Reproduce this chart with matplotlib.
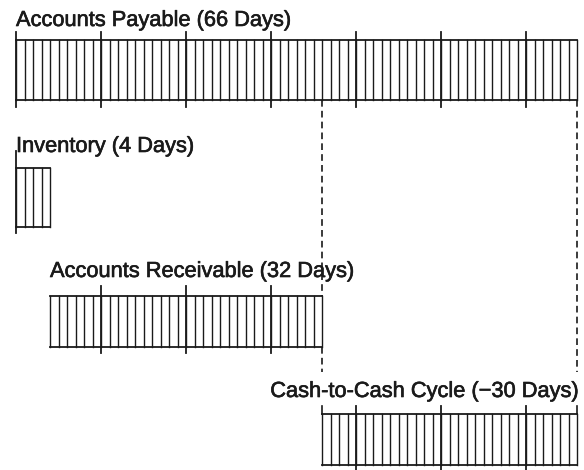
import matplotlib
matplotlib.use("Agg")
import matplotlib.pyplot as plt
import matplotlib.patheffects as pe

# Cash-to-cash cycle, in days
LABELS = ["Accounts Payable (66 Days)", "Inventory (4 Days)",
          "Accounts Receivable (32 Days)", "Cash-to-Cash Cycle (\u221230 Days)"]
STARTS = [0, 0, 4, 36]
LENGTHS = [66, 4, 32, 30]
MAJOR = 10  # tick every 10 days

# layout in pixels (y grows downward): bar top, bar bottom, tick top, tick bottom, title baseline
ROWS = [(40, 100, 32, 107, 26), (168, 227, 151, 233, 152),
        (296, 347, 286, 353, 277), (414, 465, 406, 474, 397)]
PX_DAY, X0 = 8.5, 16

INK = "#1a1a1a"
plt.rcParams["font.family"] = ["Liberation Sans", "DejaVu Sans"]
heavy = [pe.withStroke(linewidth=0.45, foreground=INK)]

fig = plt.figure(figsize=(5.84, 4.70), dpi=100)
ax = fig.add_axes([0, 0, 1, 1])
ax.set_xlim(-X0 / PX_DAY, (584 - X0) / PX_DAY)
ax.set_ylim(470, 0)
ax.axis("off")

for i, (label, s, n) in enumerate(zip(LABELS, STARTS, LENGTHS)):
    top, bot, ttop, tbot, base = ROWS[i]
    e = s + n
    ax.plot([s, e], [top, top], color=INK, lw=1.3)
    ax.plot([s, e], [bot, bot], color=INK, lw=1.3)
    for d in range(s, e + 1):
        ax.plot([d, d], [top, bot], color=INK, lw=1.0)
    for d in range(s, e + 1):
        if d % MAJOR == 0:
            ax.plot([d, d], [ttop, tbot], color=INK, lw=1.3)
    if i == 3:
        ax.text(e, base, label, ha="right", va="baseline", fontsize=15.7,
                color=INK, path_effects=heavy)
    else:
        ax.text(s, base, label, ha="left", va="baseline", fontsize=15.7,
                color=INK, path_effects=heavy)

# dashed guides from payable end / receivable end down to the cycle bar
ap_bot = ROWS[0][1]
ar_top, ar_bot = ROWS[2][0], ROWS[2][1]
cc_top, cc_ttop = ROWS[3][0], ROWS[3][2]
ar_end = STARTS[2] + LENGTHS[2]
ap_end = STARTS[0] + LENGTHS[0]
dash = dict(color=INK, lw=1.2, ls=(0, (4, 2.5)))
ax.plot([ar_end, ar_end], [ap_bot, ar_top], **dash)
ax.plot([ar_end, ar_end], [ar_bot, 372], **dash)
ax.plot([ap_end, ap_end], [ap_bot, 372], **dash)
for d in (ar_end, ap_end):
    ax.plot([d, d], [cc_ttop, cc_top], color=INK, lw=1.2)

fig.savefig("out.png", dpi=100, facecolor="white")
